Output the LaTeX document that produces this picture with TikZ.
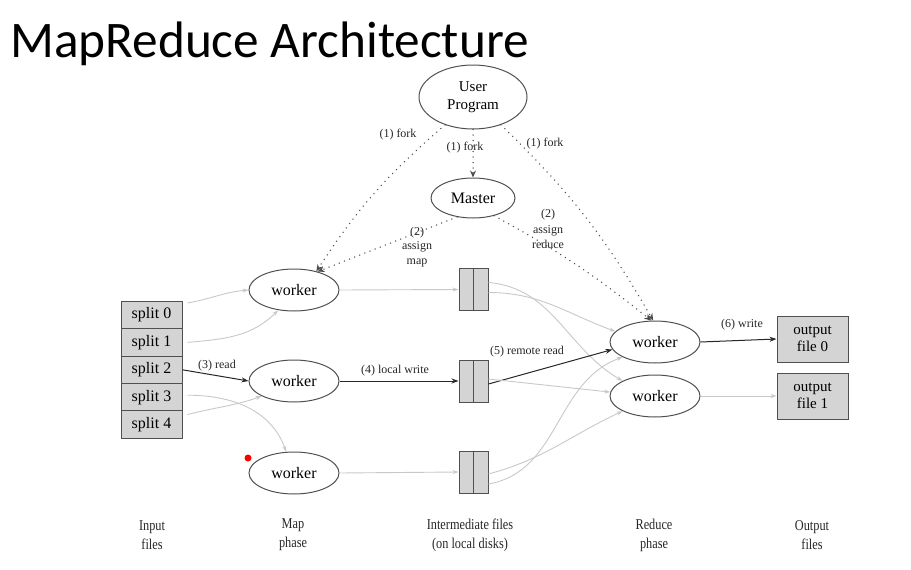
\documentclass[tikz,border=0pt]{standalone}
\usepackage{fontspec}
\setmainfont{Liberation Serif}
\newfontfamily\titlefont{Carlito}
\newfontfamily\condfont[FakeStretch=0.82]{Liberation Serif}
\usetikzlibrary{shapes.geometric,arrows.meta}
\definecolor{boxfill}{RGB}{212,212,212}
\definecolor{boxline}{RGB}{80,80,80}
\definecolor{lightedge}{RGB}{200,200,200}
\tikzset{
  ell/.style={ellipse,draw=boxline,line width=1pt,inner sep=0pt,font=\fontsize{16}{19}\selectfont},
  splitbox/.style={rectangle,draw=boxline,fill=boxfill,line width=1pt,minimum width=61pt,minimum height=27.4pt,inner sep=0pt,font=\fontsize{16}{19}\selectfont},
  filebox/.style={rectangle,draw=boxline,fill=boxfill,line width=1pt,minimum width=29pt,minimum height=42pt,inner sep=0pt},
  outbox/.style={rectangle,draw=boxline,fill=boxfill,line width=1pt,minimum width=71pt,minimum height=46pt,inner sep=0pt,align=center,font=\fontsize{15}{17}\selectfont},
  lbl/.style={font=\fontsize{12}{14}\selectfont,inner sep=1pt,align=center,text=black!85},
  phase/.style={font=\condfont\fontsize{15}{19}\selectfont,align=center,text=black!85},
  strong/.style={draw=black!85,line width=1pt,-{Stealth[length=7pt,width=5pt]}},
  faint/.style={draw=lightedge,line width=0.9pt,-{Stealth[length=6pt,width=4pt]}},
  dots/.style={draw=black!70,line width=1.5pt,line cap=round,dash pattern=on 0pt off 5.5pt,-{Stealth[length=7pt,width=6pt]}},
}
\begin{document}
\begin{tikzpicture}[x=1pt,y=-1pt]
\useasboundingbox (0,0) rectangle (911,570);
% title
\node[anchor=base west,inner sep=0pt,font=\titlefont\fontsize{51.3}{60}\selectfont] (title) at (10,57) {MapReduce Architecture};
% top nodes
\node[ell,minimum width=108pt,minimum height=64pt,align=center,font=\fontsize{15}{18}\selectfont] (user) at (473,97) {User\\Program};
\node[ell,minimum width=84pt,minimum height=40pt] (master) at (473,198) {Master};
% map workers
\node[ell,minimum width=90pt,minimum height=42pt] (mw1) at (294,290) {worker};
\node[ell,minimum width=90pt,minimum height=42pt] (mw2) at (294,381) {worker};
\node[ell,minimum width=90pt,minimum height=42pt] (mw3) at (294,473) {worker};
% splits
\node[splitbox] (s0) at (151.5,315) {split 0};
\node[splitbox] (s1) at (151.5,342.4) {split 1};
\node[splitbox] (s2) at (151.5,369.8) {split 2};
\node[splitbox] (s3) at (151.5,397.2) {split 3};
\node[splitbox] (s4) at (151.5,424.6) {split 4};
% intermediate files
\node[filebox] (f1) at (473.5,289.5) {};
\node[filebox] (f2) at (473.5,381) {};
\node[filebox] (f3) at (473.5,472) {};
\foreach \f in {f1,f2,f3} \draw[boxline,line width=1pt] (\f.north) -- (\f.south);
% reduce workers
\node[ell,minimum width=90pt,minimum height=42pt] (rw1) at (655,342) {worker};
\node[ell,minimum width=90pt,minimum height=42pt] (rw2) at (655,396) {worker};
% outputs
\node[outbox] (o0) at (812.5,339) {output\\file 0};
\node[outbox] (o1) at (812.5,396) {output\\file 1};
% dotted control edges
\draw[dots] (user.225) to[bend right=8] (mw1.40);
\draw[dots] (user.south) -- (master.north);
\draw[dots] (user.315) to[bend left=8] (rw1.95);
\draw[dots] (master.230) -- (mw1.38);
\draw[dots] (master.320) to[bend left=5] (rw1.100);
\node[lbl] (l1a) at (398,135) {(1) fork};
\node[lbl] (l1b) at (465,148) {(1) fork};
\node[lbl] (l1c) at (545,144) {(1) fork};
\node[lbl,font=\fontsize{12}{14.5}\selectfont] (l2a) at (417,247) {(2)\\assign\\map};
\node[lbl,font=\fontsize{12}{15.5}\selectfont] (l2b) at (548,229) {(2)\\assign\\reduce};
% splits to map workers
\draw[faint] (s0.east) ++(5,-12) coordinate (c0) (c0) to[out=10,in=185] (mw1.west);
\draw[faint] (s1.east) ++(5,0) coordinate (c1) (c1) to[out=5,in=225] (mw1.232);
\draw[strong] (s2.east) -- (mw2.west);
\node[lbl] (l3) at (217,366) {(3) read};
\draw[faint] (s4.east) ++(5,-10) coordinate (c4) (c4) to[out=15,in=200] (mw2.205);
\draw[faint] (s3.east) ++(5,-2) coordinate (c3) (c3) to[out=0,in=110] (mw3.110);
% map workers to files
\draw[faint] (mw1.east) -- (f1.west);
\draw[strong] (mw2.east) -- (f2.west);
\node[lbl] (l4) at (395,371) {(4) local write};
\draw[faint] (mw3.east) -- (f3.west);
% files to reduce workers
\draw[faint] ([yshift=-3pt]f1.east) to[out=0,in=160] (rw1.165);
\draw[faint] ([yshift=7pt]f1.east) to[out=-5,in=150] (rw2.155);
\draw[strong] ([yshift=-3pt]f2.east) -- (rw1.190);
\node[lbl] (l5) at (527,352) {(5) remote read};
\draw[faint] ([yshift=2pt]f2.east) -- (rw2.175);
\draw[faint] ([yshift=-12pt]f3.east) to[out=10,in=200] (rw1.205);
\draw[faint] ([yshift=-2pt]f3.east) to[out=15,in=205] (rw2.205);
% reduce to outputs
\draw[strong] (rw1.east) -- (o0.west);
\node[lbl] (l6) at (742,325) {(6) write};
\draw[faint] (rw2.east) -- (o1.west);
% phase labels
\node[phase] (p1) at (152,535) {Input\\files};
\node[phase] (p2) at (293,535) {Map\\phase};
\node[phase] (p3) at (470,535) {Intermediate files\\(on local disks)};
\node[phase] (p4) at (654,535) {Reduce\\phase};
\node[phase] (p5) at (812,535) {Output\\files};
% cursor dot
\fill[red] (248,458) circle (3.5pt);
\end{tikzpicture}
\end{document}
